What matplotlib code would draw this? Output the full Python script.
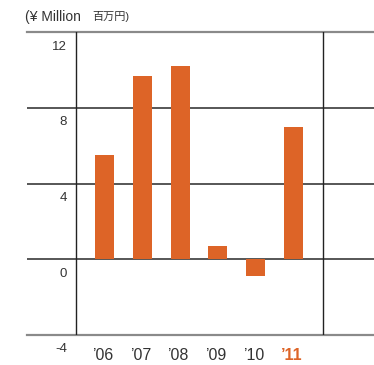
import matplotlib
matplotlib.use("Agg")
import matplotlib.pyplot as plt
from matplotlib import font_manager
from matplotlib.transforms import blended_transform_factory, offset_copy

# Net income by fiscal year
years = ["’06", "’07", "’08", "’09", "’10", "’11"]
values = [5.5, 9.7, 10.2, 0.7, -0.9, 7.0]
y_ticks = [12, 8, 4, 0, -4]
unit_label = "(¥ Million"
unit_label_jp = "百万円)"

BAR = "#DD6427"
TEXT = "#333333"

names = {f.name for f in font_manager.fontManager.ttflist}
base = "Liberation Sans Narrow" if "Liberation Sans Narrow" in names else "Liberation Sans"
plt.rcParams["font.family"] = [base, "Noto Sans CJK JP", "DejaVu Sans"]

W, H = 374, 365
fig = plt.figure(figsize=(W / 100, H / 100), dpi=100)
ax = fig.add_axes([27 / W, 1 - 335 / H, 347 / W, 303 / H])

spacing = 37.8
x0_px = 104.5
xs = list(range(len(years)))
ax.set_xlim((27 - x0_px) / spacing, (374 - x0_px) / spacing)
ax.set_ylim(-4, 12)

ax.bar(xs, values, width=0.5, color=BAR, zorder=3)

# horizontal rules
for t in y_ticks:
    if t in (12, -4):
        ax.axhline(t, color="#8a8a8a", lw=1.6, zorder=2, clip_on=False)
    else:
        ax.axhline(t, color="#3a3a3a", lw=1.2, zorder=2)

# vertical frame lines
for px in (76, 323):
    ax.axvline((px - x0_px) / spacing, color="#222222", lw=1.0, zorder=2)

for s in ax.spines.values():
    s.set_visible(False)
ax.set_xticks([])
ax.set_yticks([])

# y labels sit below each rule, right-aligned
tr = blended_transform_factory(fig.transFigure, ax.transData)
tr = offset_copy(tr, fig=fig, x=0, y=-14.5, units="dots")
for t in y_ticks:
    ax.text(67 / W, t, str(t), transform=tr, ha="right", va="center",
            fontsize=9.5, color=TEXT)

# year labels
trx = blended_transform_factory(ax.transData, fig.transFigure)
for i, lab in enumerate(years):
    last = i == len(years) - 1
    ax.text(xs[i] - 0.05, 1 - 356 / H, lab, transform=trx, ha="center", va="center",
            fontsize=11.5, color=BAR if last else TEXT,
            fontweight="bold" if last else "normal")

fig.text(25 / W, 1 - 17 / H, unit_label, ha="left", va="center", fontsize=10, color=TEXT)
fig.text(92 / W, 1 - 17 / H, unit_label_jp, ha="left", va="center", fontsize=8, color=TEXT)

fig.savefig("out.png", dpi=100)
